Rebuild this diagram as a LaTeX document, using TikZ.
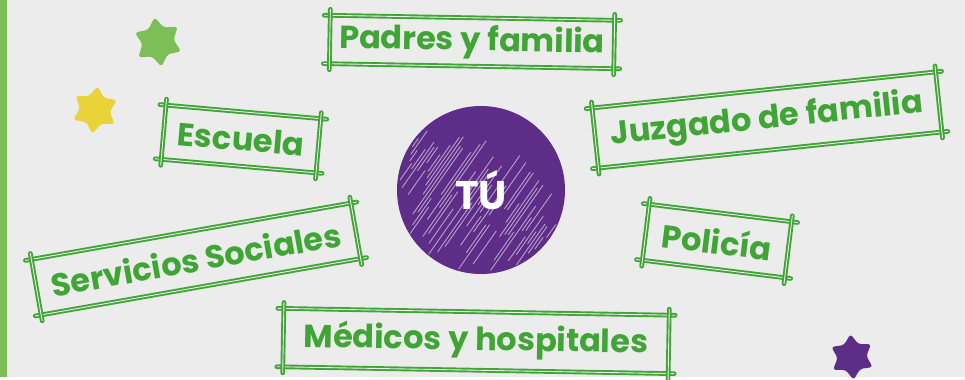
\documentclass[tikz,border=0pt]{standalone}
\usepackage{fontspec}
\setmainfont{Poppins}
\usetikzlibrary{shapes.geometric}

\definecolor{paper}{HTML}{ECECEC}
\definecolor{boxgreen}{HTML}{3FA535}
\definecolor{tupurple}{HTML}{5E2D88}
\definecolor{stargreen}{HTML}{7DBF56}
\definecolor{staryellow}{HTML}{E9D339}
\definecolor{bargreen}{HTML}{7CBD58}

\begin{document}
\begin{tikzpicture}[x=1pt,y=-1pt,
    labelbox/.style={draw=none, text=boxgreen, inner sep=0pt,
      font=\fontsize{32}{32}\selectfont\bfseries},
    frame/.style={draw=boxgreen, line width=1.9pt, double=paper,
      double distance=0.9pt, line cap=round,
      shorten <=-6pt, shorten >=-6pt},
    scratch/.style={white, opacity=.55, line width=.9pt, line cap=round},
    starshape/.style={star, star points=6, star point ratio=1.6,
      inner sep=0pt, rounded corners=3pt}]

      % paper and side bar
      \fill[paper] (0,0) rectangle (965,377);
      \fill[bargreen] (0,0) rectangle (7,377);

      % stars
      \node[starshape, fill=stargreen, minimum size=50pt, rotate=8] (stara) at (158,42) {};
      \node[starshape, fill=staryellow, minimum size=48pt, rotate=-6] (starb) at (95,110) {};
      \node[starshape, fill=tupurple, minimum size=46pt, rotate=4] (starc) at (852,357) {};

      % centre
      \node[
        circle,
        fill=tupurple,
        inner sep=0pt,
        minimum size=168pt
        ] (tu) at (481,190) {};

      \begin{scope}
        \clip (481,190) circle (83);
        \pgfmathsetseed{17}
        \foreach \d in {-81,-78,...,81}{
          \pgfmathsetmacro{\h}{sqrt(84*84-\d*\d)}
          \pgfmathsetmacro{\ta}{-\h+rnd*\h}
          \pgfmathsetmacro{\tb}{\ta+(0.2+0.5*rnd)*(\h-\ta)}
          \draw[scratch] ({481+\d*0.819+\ta*0.574},{190+\d*0.574-\ta*0.819})
            -- ({481+\d*0.819+\tb*0.574},{190+\d*0.574-\tb*0.819});
        }
      \end{scope}

      \node[text=white, font=\fontsize{40}{40}\selectfont\bfseries] (tutext) at (tu.center) {TÚ};

      % boxes round it
      \node[labelbox, rotate=-1, minimum width=284pt, minimum height=48pt] (padres) at (472,42) {Padres y familia};
      \node[labelbox, rotate=-5, minimum width=155pt, minimum height=54pt] (escuela) at (241,139) {Escuela};
      \node[labelbox, rotate=6, minimum width=345pt, minimum height=60pt] (juzgado) at (767,120) {Juzgado de familia};
      \node[labelbox, rotate=10, minimum width=324pt, minimum height=56pt] (servicios) at (196,259) {Servicios Sociales};
      \node[labelbox, rotate=-7, minimum width=143pt, minimum height=56pt] (policia) at (717,241) {Policía};
      \node[labelbox, rotate=-1, minimum width=385pt, minimum height=58pt] (medicos) at (476,341) {Médicos y hospitales};

      \foreach \n in {padres,escuela,juzgado,servicios,policia,medicos}{
        \draw[frame] (\n.north west) -- (\n.north east);
        \draw[frame] (\n.south west) -- (\n.south east);
        \draw[frame] (\n.north west) -- (\n.south west);
        \draw[frame] (\n.north east) -- (\n.south east);
      }

      % \draw[help lines] (0,0) grid[step=50] (965,377);
    \end{tikzpicture}
\end{document}
